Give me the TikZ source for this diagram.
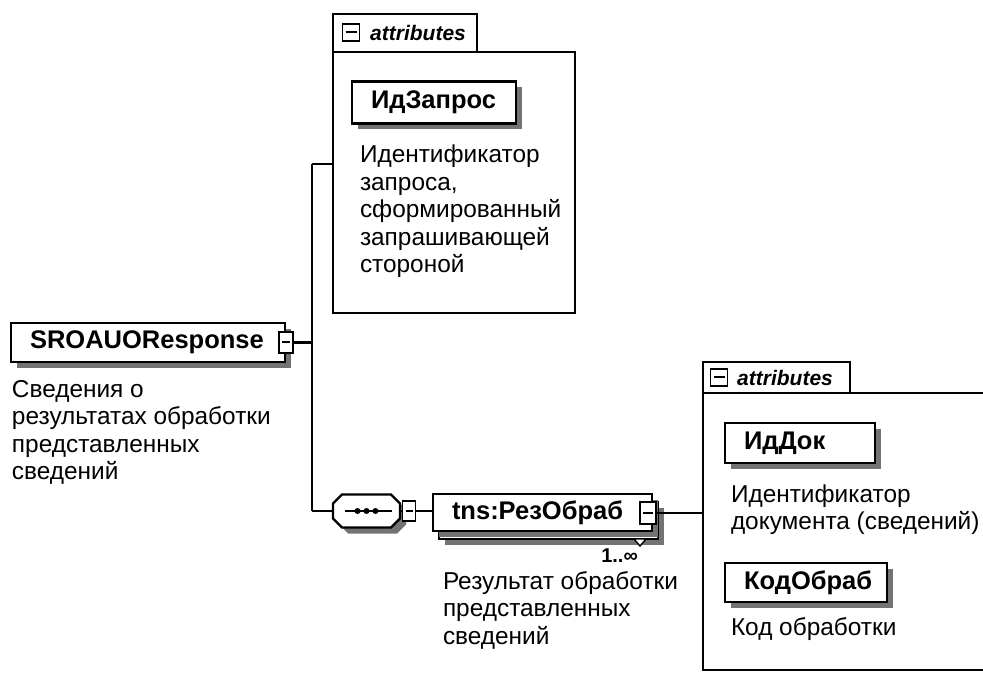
\documentclass[tikz,border=0pt]{standalone}
\usepackage{fontspec}
\setmainfont{Liberation Sans}
\usetikzlibrary{shadows}
\tikzset{
  ln/.style={line width=2.4pt},
  shd/.style={drop shadow={shadow xshift=6pt,shadow yshift=-6pt,fill=black!55,opacity=1}},
  elem/.style={draw,line width=2.2pt,fill=white,inner ysep=0pt,inner xsep=19pt,outer sep=0pt,
    align=left,font=\fontsize{25.5}{30}\selectfont\bfseries,shd},
  desc/.style={anchor=north west,inner sep=0pt,outer sep=0pt,align=left,font=\fontsize{24.4}{27.5}\selectfont},
  expander/.style={draw,line width=1.8pt,fill=white,inner sep=0pt,outer sep=0pt,
    minimum width=14pt,minimum height=21pt,
    path picture={\draw[line width=2pt] ([xshift=3pt]path picture bounding box.west) -- ([xshift=-3pt]path picture bounding box.east);}},
  tabicon/.style={expander,minimum width=17pt,minimum height=17pt},
  tabtext/.style={anchor=west,inner sep=0pt,font=\fontsize{21}{24}\selectfont\bfseries\itshape},
  container/.style={draw,line width=2.2pt,anchor=north west,inner sep=0pt,outer sep=0pt},
  card/.style={anchor=east,inner sep=0pt,font=\fontsize{20}{24}\selectfont\bfseries},
  octa/.style={line width=2.2pt},
}
\begin{document}
\begin{tikzpicture}[x=1pt,y=-1pt]
\useasboundingbox (0,0) rectangle (983,676);

% ---- root element
\node[elem,minimum width=274pt,minimum height=39pt,text width=236pt] (root) at (148,342.5) {SROAUOResponse};
\node[expander] (rootx) at (286,342.5) {};
\node[desc] (rootd) at (12,378) {\rule{0pt}{19pt}Сведения о\\результатах обработки\\представленных\\сведений};

% ---- junction
\coordinate (j) at (312,342.5);
\coordinate (jt) at (312,164);
\coordinate (jb) at (312,511);

% ---- attributes container 1
\node[container,minimum width=242pt,minimum height=261pt] (box1) at (333,52) {};
\draw[ln] (box1.north west) -- ++(0,-38) -| (477,52);
\node[tabicon] (tab1x) at (351,32.5) {};
\node[tabtext] (tab1t) at (370,33) {attributes};
\node[elem,minimum width=164pt,minimum height=42pt,text width=126pt] (idz) at (434,102.5) {ИдЗапрос};
\node[desc] (idzd) at (360,144) {\rule{0pt}{19pt}Идентификатор\\запроса,\\сформированный\\запрашивающей\\стороной};

% ---- sequence compositor
\node[minimum width=67pt,minimum height=33pt,inner sep=0pt,outer sep=0pt] (seq) at (366.5,511) {};
\begin{scope}[shift={([xshift=6pt,yshift=-6pt]seq.north west)}]
  \fill[black!55] (9,0)--(58,0)--(67,9)--(67,24)--(58,33)--(9,33)--(0,24)--(0,9)--cycle;
\end{scope}
\begin{scope}[shift={(seq.north west)}]
  \draw[octa,fill=white] (9,0)--(58,0)--(67,9)--(67,24)--(58,33)--(9,33)--(0,24)--(0,9)--cycle;
\end{scope}
\draw[line width=2pt] ([xshift=12pt]seq.west) -- ([xshift=-8pt]seq.east);
\foreach \dx in {-9,0,9} \fill ([xshift=\dx pt]seq.center) circle (3pt);
\node[expander,minimum width=13pt,minimum height=20pt] (seqx) at (409,511) {};

% ---- tns:РезОбраб (repeated element)
\node[draw,line width=2.2pt,fill=white,minimum width=219pt,minimum height=37pt,inner sep=0pt,outer sep=0pt,shd] (tnsb) at (548.5,520.5) {};
\draw[line width=1.4pt,fill=white] ([xshift=-24pt]tnsb.south east) -- ++(12,0) -- ++(-6,7) -- cycle;
\node[elem,minimum width=219pt,minimum height=37pt,text width=181pt,drop shadow={opacity=0}] (tns) at (542.5,512.5) {tns:РезОбраб};
\node[expander,minimum width=16pt,minimum height=22pt] (tnsx) at (648,513) {};
\node[card] (tnsc) at (638,556) {1..∞};
\node[desc] (tnsd) at (443,570) {\rule{0pt}{19pt}Результат обработки\\представленных\\сведений};

% ---- attributes container 2
\node[container,minimum width=300pt,minimum height=277pt] (box2) at (703,393) {};
\draw[ln] (box2.north west) -- ++(0,-31) -| (850,393);
\node[tabicon] (tab2x) at (719,377.5) {};
\node[tabtext] (tab2t) at (737,378) {attributes};
\node[elem,minimum width=150pt,minimum height=40pt,text width=112pt] (iddok) at (800,443) {ИдДок};
\node[desc] (iddokd) at (731,483) {\rule{0pt}{19pt}Идентификатор\\документа (сведений)};
\node[elem,minimum width=162pt,minimum height=39pt,text width=124pt] (kod) at (806,582.5) {КодОбраб};
\node[desc] (kodd) at (731,616) {\rule{0pt}{19pt}Код обработки};

% ---- connectors
\draw[ln] (rootx.east) -- (j);
\draw[ln] (jt) -- (jb);
\draw[ln] (jt) -- (jt -| box1.west);
\draw[ln] (jb) -- (seq.west);
\draw[ln] (seq.east) -- (seqx.west);
\draw[ln] (seqx.east) -- (seqx.east -| tns.west);
\draw[ln] (tnsx.east) -- (tnsx.east -| box2.west);
\end{tikzpicture}
\end{document}
